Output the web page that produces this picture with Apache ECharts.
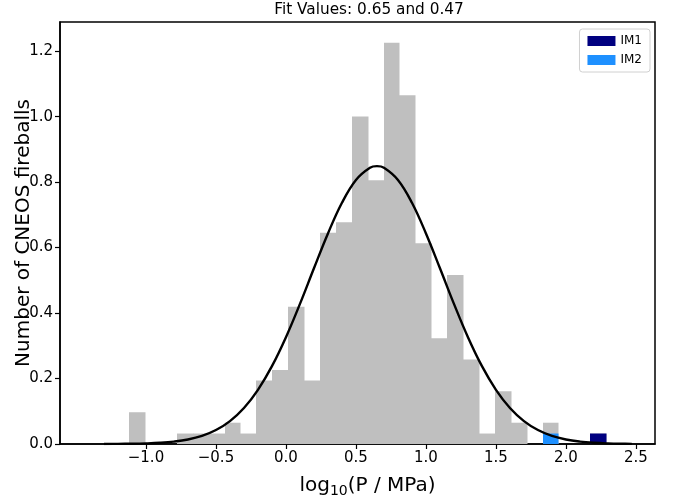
<!DOCTYPE html>
<html>
<head>
<meta charset="utf-8">
<script src="https://cdn.jsdelivr.net/npm/echarts@6/dist/echarts.min.js"></script>
<style>html,body{margin:0;padding:0;background:#fff}#c{width:682px;height:499px}</style>
</head>
<body>
<div id="c"></div>
<script>
var binEdges = [-1.121,-1.007,-0.894,-0.780,-0.667,-0.553,-0.439,-0.326,-0.212,-0.099,
  0.015,0.129,0.242,0.356,0.469,0.583,0.697,0.810,0.924,1.037,
  1.151,1.265,1.378,1.492,1.605,1.719,1.833,1.946,2.060,2.173,2.287];
var binHeights = [0.097,0,0,0.032,0.032,0.032,0.065,0.032,0.194,0.226,
  0.419,0.194,0.645,0.677,1.000,0.806,1.226,1.065,0.613,0.323,
  0.516,0.258,0.032,0.161,0.065,0,0.065,0,0,0.032];
var im1Bar = [[2.173, 2.287, 0.032]];
var im2Bar = [[1.833, 1.946, 0.032]];
var fitX = [-1.3,-1.2,-1.1,-1.0,-0.9,-0.8,-0.7,-0.6,-0.5,-0.4,-0.3,-0.2,-0.1,0.0,0.1,0.2,0.3,0.4,0.5,0.6,0.65,0.7,0.8,0.9,1.0,1.1,1.2,1.3,1.4,1.5,1.6,1.7,1.8,1.9,2.0,2.1,2.2,2.3,2.4,2.47];
var fitY = [0.0002,0.0004,0.0008,0.0018,0.0037,0.0073,0.0137,0.0247,0.0426,0.0700,0.110,0.1655,0.2377,0.3262,0.428,0.5367,0.6432,0.7369,0.8067,0.8440,0.8488,0.8440,0.8067,0.7369,0.6432,0.5367,0.428,0.3262,0.2377,0.1655,0.110,0.0700,0.0426,0.0247,0.0137,0.0073,0.0037,0.0018,0.0008,0.0005];
var xTicks = [-1.0,-0.5,0.0,0.5,1.0,1.5,2.0,2.5];
var yTicks = [0.0,0.2,0.4,0.6,0.8,1.0,1.2];
var titleText = 'Fit Values: 0.65 and 0.47';

var FONT = 'DejaVu Sans';
var histData = binHeights.map(function(h, i){ return [binEdges[i], binEdges[i+1], h]; });
var fitData = fitX.map(function(x, i){ return [x, fitY[i]]; });

function rectItem(color){
  return function(params, api){
    var p0 = api.coord([api.value(0), api.value(2)]);
    var p1 = api.coord([api.value(1), 0]);
    var x0 = Math.round(p0[0]), x1 = Math.round(p1[0]);
    return {type:'rect', shape:{x:x0, y:p0[1], width:x1-x0+0.5, height:p1[1]-p0[1]},
      style:{fill:color, stroke:null}};
  };
}
function fmt(v){ return v.toFixed(1).replace('-', '\u2212'); }

var chart = echarts.init(document.getElementById('c'));
chart.setOption({
  animation:false,
  backgroundColor:'#fff',
  title:{text:titleText, left:369, top:0, textAlign:'center', padding:[3,0,0,0],
    textStyle:{fontFamily:FONT, fontSize:15.3, fontWeight:'normal', color:'#000'}},
  legend:{right:32, top:29, orient:'vertical', itemWidth:28, itemHeight:10, itemGap:7,
    padding:[6,8,6,8], borderColor:'#d0d0d0', borderWidth:1, borderRadius:3,
    icon:'rect', data:['IM1','IM2'],
    textStyle:{fontFamily:FONT, fontSize:12, color:'#000'}},
  grid:{left:60, right:27, top:22, bottom:55, show:true, borderColor:'#000', borderWidth:1.5,
    backgroundColor:'transparent', containLabel:false, outerBoundsMode:'none'},
  xAxis:{type:'value', min:-1.614, max:2.636,
    name:'{a|log}{s|10}{a|(P / MPa)}', nameLocation:'middle', nameGap:30, nameMoveOverlap:false,
    nameTextStyle:{padding:[0,0,0,20], rich:{a:{fontFamily:FONT, fontSize:20, color:'#000'}, s:{fontFamily:FONT, fontSize:14, color:'#000', verticalAlign:'bottom', padding:[10,0,0,0]}}},
    axisLine:{show:true, onZero:false, lineStyle:{color:'#000', width:1.5}},
    axisTick:{show:true, inside:false, length:5, customValues:xTicks, lineStyle:{color:'#000', width:1.2}},
    axisLabel:{customValues:xTicks, formatter:fmt, fontFamily:FONT, fontSize:15, color:'#000', margin:7},
    splitLine:{show:false}},
  yAxis:{type:'value', min:0, max:1.289,
    name:'Number of CNEOS fireballs', nameLocation:'middle', nameGap:26, nameMoveOverlap:false,
    nameTextStyle:{fontFamily:FONT, fontSize:20, color:'#000'},
    axisLine:{show:true, onZero:false, lineStyle:{color:'#000', width:1.5}},
    axisTick:{show:true, inside:false, length:5, customValues:yTicks, lineStyle:{color:'#000', width:1.2}},
    axisLabel:{customValues:yTicks, formatter:fmt, fontFamily:FONT, fontSize:15, color:'#000', margin:7},
    splitLine:{show:false}},
  series:[
    {type:'custom', name:'hist', renderItem:rectItem('#bfbfbf'), data:histData, z:1, encode:{x:[0,1], y:2}, silent:true},
    {type:'custom', name:'IM1', renderItem:rectItem('#000080'), data:im1Bar, z:2, encode:{x:[0,1], y:2}, itemStyle:{color:'#000080'}},
    {type:'custom', name:'IM2', renderItem:rectItem('#1e90ff'), data:im2Bar, z:2, encode:{x:[0,1], y:2}, itemStyle:{color:'#1e90ff'}},
    {type:'line', name:'fit', data:fitData, smooth:0.4, showSymbol:false, z:3,
      lineStyle:{color:'#000', width:2.4}}
  ]
});
</script>
</body>
</html>
